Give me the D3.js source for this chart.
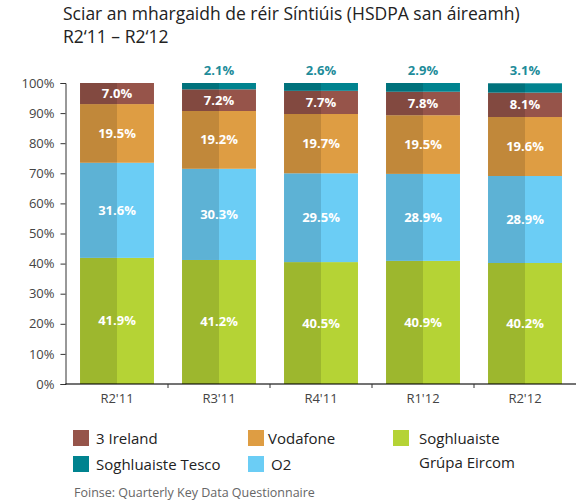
<!DOCTYPE html>
<html>
<head>
<meta charset="utf-8">
<script src="https://cdn.jsdelivr.net/npm/d3@7"></script>
<style>
  body { margin: 0; background: #fff; }
  svg { font-family: "Open Sans", "Noto Sans", sans-serif; }
</style>
</head>
<body>
<div id="chart"></div>
<script>
var width = 583, height = 504;

// data
var quarters = ["R2'11", "R3'11", "R4'11", "R1'12", "R2'12"];
var eircom   = [41.9, 41.2, 40.5, 40.9, 40.2];
var o2       = [31.6, 30.3, 29.5, 28.9, 28.9];
var vodafone = [19.5, 19.2, 19.7, 19.5, 19.6];
var three    = [7.0, 7.2, 7.7, 7.8, 8.1];
var tesco    = [0, 2.1, 2.6, 2.9, 3.1];
var yTicks   = [0, 10, 20, 30, 40, 50, 60, 70, 80, 90, 100];

var series = [
    {name: "Soghluaiste Grúpa Eircom", values: eircom,   color: "#b5d335"},
    {name: "O2",                       values: o2,       color: "#6bcdf5"},
    {name: "Vodafone",                 values: vodafone, color: "#de9d43"},
    {name: "3 Ireland",                values: three,    color: "#96544a"},
    {name: "Soghluaiste Tesco",        values: tesco,    color: "#00838f"}
];

var svg = d3.select("#chart").append("svg")
    .attr("width", width)
    .attr("height", height);

// title
var title = svg.append("text")
    .attr("x", 63)
    .attr("y", 20)
    .style("font-size", "17.5px")
    .style("fill", "#222");
title.append("tspan").attr("x", 63).attr("y", 20)
    .text("Sciar an mhargaidh de réir Síntiúis (HSDPA san áireamh)");
title.append("tspan").attr("x", 63).attr("y", 43)
    .text("R2‘11 – R2‘12");

var x = d3.scaleBand()
    .domain(quarters)
    .range([66, 576])
    .paddingInner(0.275)
    .paddingOuter(0.1375);

var y = d3.scaleLinear()
    .domain([0, 100])
    .range([384, 83]);

// stack
var rows = quarters.map(function(q, i) {
    var r = {q: q};
    series.forEach(function(s) { r[s.name] = s.values[i]; });
    return r;
});
var stack = d3.stack().keys(series.map(function(s) { return s.name; }));
var layers = stack(rows);

var g = svg.append("g");
layers.forEach(function(layer, li) {
    var s = series[li];
    var lg = g.append("g");
    lg.selectAll("rect.full")
        .data(layer.filter(function(d) { return d[1] - d[0] > 0; }))
        .enter().append("rect")
        .attr("x", function(d) { return x(d.data.q); })
        .attr("y", function(d) { return y(d[1]); })
        .attr("width", x.bandwidth())
        .attr("height", function(d) { return y(d[0]) - y(d[1]); })
        .style("fill", s.color);
    // darker left half
    lg.selectAll("rect.half")
        .data(layer.filter(function(d) { return d[1] - d[0] > 0; }))
        .enter().append("rect")
        .attr("x", function(d) { return x(d.data.q); })
        .attr("y", function(d) { return y(d[1]); })
        .attr("width", x.bandwidth() / 2)
        .attr("height", function(d) { return y(d[0]) - y(d[1]); })
        .style("fill", "#000")
        .style("opacity", 0.13);
    // labels
    lg.selectAll("text")
        .data(layer.filter(function(d) { return d[1] - d[0] > 0; }))
        .enter().append("text")
        .attr("x", function(d) { return x(d.data.q) + x.bandwidth() / 2; })
        .attr("y", function(d) {
            if (li == 4) return y(d[1]) - 8;
            return (y(d[0]) + y(d[1])) / 2 + 4.5;
        })
        .attr("text-anchor", "middle")
        .style("font-size", "13px")
        .style("font-weight", "bold")
        .style("fill", li == 4 ? "#1e8c9a" : "#fff")
        .text(function(d) { return (d[1] - d[0]).toFixed(1) + "%"; });
});

// y axis
var yAxis = svg.append("g")
    .attr("transform", "translate(65.5,0)")
    .call(d3.axisLeft(y).tickValues(yTicks).tickSize(5).tickPadding(6)
        .tickFormat(function(d) { return d + "%"; }));
yAxis.select(".domain").attr("stroke", "#333");
yAxis.selectAll(".tick line").attr("stroke", "#333");
yAxis.selectAll("text")
    .style("font-family", "'Open Sans', sans-serif")
    .style("font-size", "13px")
    .style("fill", "#444");

// x axis line + boundary ticks
svg.append("line")
    .attr("x1", 65.5).attr("x2", 576)
    .attr("y1", 384).attr("y2", 384)
    .style("stroke", "#000")
    .style("stroke-opacity", 0.55)
    .style("stroke-width", 2);
svg.selectAll("line.bt")
    .data(quarters.slice(1))
    .enter().append("line")
    .attr("x1", function(d) { return x(d) - x.step() * x.paddingInner() / 2; })
    .attr("x2", function(d) { return x(d) - x.step() * x.paddingInner() / 2; })
    .attr("y1", 384).attr("y2", 388)
    .style("stroke", "#333");
svg.selectAll("text.xl")
    .data(quarters)
    .enter().append("text")
    .attr("x", function(d) { return x(d) + x.bandwidth() / 2; })
    .attr("y", 403)
    .attr("text-anchor", "middle")
    .style("font-size", "13px")
    .style("fill", "#444")
    .text(function(d) { return d; });

// legend
var legendItems = [
    {label: ["3 Ireland"], color: "#96544a", x: 73, y: 430, tx: 96},
    {label: ["Soghluaiste Tesco"], color: "#00838f", x: 73, y: 456, tx: 96},
    {label: ["Vodafone"], color: "#de9d43", x: 248, y: 430, tx: 268},
    {label: ["O2"], color: "#6bcdf5", x: 248, y: 456, tx: 271},
    {label: ["Soghluaiste", "Grúpa Eircom"], color: "#b5d335", x: 393, y: 430, tx: 419}
];
var legend = svg.append("g");
legendItems.forEach(function(it) {
    legend.append("rect")
        .attr("x", it.x).attr("y", it.y)
        .attr("width", 16).attr("height", 16)
        .style("fill", it.color);
    it.label.forEach(function(l, i) {
        legend.append("text")
            .attr("x", it.tx)
            .attr("y", it.y + 13.5 + i * 24)
            .style("font-size", "15px")
            .style("fill", "#222")
            .text(l);
    });
});

svg.append("text")
    .attr("x", 74)
    .attr("y", 497)
    .style("font-size", "12.5px")
    .style("fill", "#666")
    .text("Foinse:  Quarterly Key Data Questionnaire");
</script>
</body>
</html>
